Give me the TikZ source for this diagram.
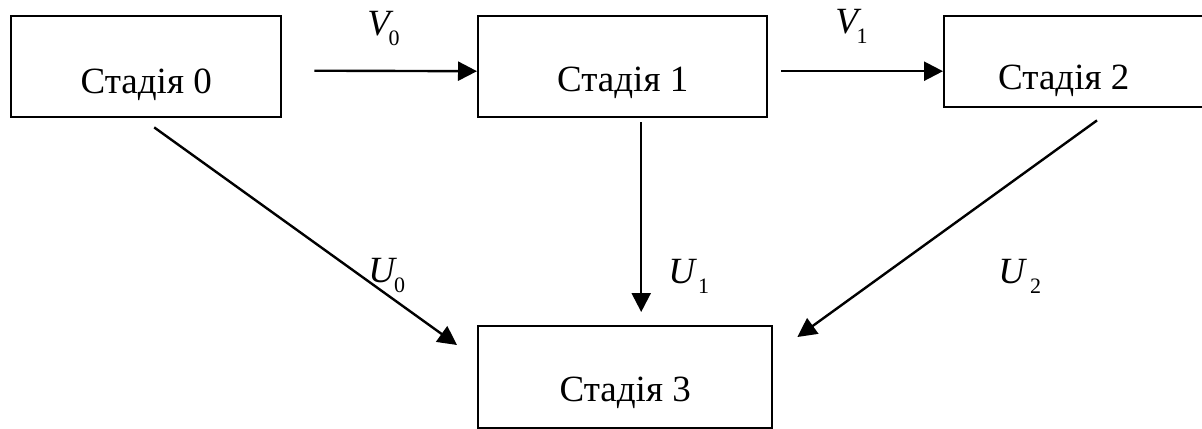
\documentclass[tikz,border=0pt]{standalone}
\usepackage{fontspec}
\setmainfont{Liberation Serif}
\usetikzlibrary{arrows.meta}
\newcommand{\lbl}[3]{\textit{#1}\kern#2pt\raisebox{-5pt}{\fontsize{11}{12}\selectfont #3}}
\tikzset{
  box/.style={draw, line width=1.2pt, rectangle, inner xsep=0pt, inner ysep=0pt, anchor=north west,
    font=\fontsize{18.5}{20}\selectfont},
  arr/.style={line width=1.2pt, -{Triangle[length=9.5pt,width=9.5pt]}},
  lab/.style={anchor=base west, inner sep=0pt, font=\fontsize{18.5}{20}\selectfont},
}
\begin{document}
\begin{tikzpicture}[x=0.5pt,y=-0.5pt]
\useasboundingbox (0,0) rectangle (1202,428);
\node[box, minimum width=135pt, text height=38.5pt, text depth=12pt] (s0) at (10,15) {Стадія 0};
\node[box, minimum width=144.5pt, text height=37.5pt, text depth=13pt] (s1) at (477,15) {Стадія 1};
\node[box, inner xsep=27pt, text height=36.5pt, text depth=9pt] (s2) at (943,15) {\makebox[77.5pt][l]{Стадія 2}};
\node[box, minimum width=147pt, text height=37.5pt, text depth=13.5pt] (s3) at (477,325) {Стадія 3};

\draw[arr] ([shift={(32,4)}]s0.east) -- ([shift={(0,4.5)}]s1.west);
\draw[arr] ([shift={(13,4.5)}]s1.east) -- ([shift={(0,9.5)}]s2.west);
\draw[arr] ([shift={(18.5,4)}]s1.south) -- ([shift={(16,-13)}]s3.north);
\draw[arr] ([shift={(8,9)}]s0.south) -- ([shift={(-20,20)}]s3.north west);
\draw[arr] ([shift={(154,12)}]s2.south west) -- ([shift={(24,12)}]s3.north east);

\node[lab] (v0) at (367,35) {\lbl{V}{-2.5}{0}};
\node[lab] (v1) at (835,33) {\lbl{V}{-2.5}{1}};
\node[lab] (u0) at (368,282) {\lbl{U}{-1.5}{0}};
\node[lab] (u1) at (668,283) {\lbl{U}{0.5}{1}};
\node[lab] (u2) at (998,283) {\lbl{U}{1.5}{2}};
\end{tikzpicture}
\end{document}
